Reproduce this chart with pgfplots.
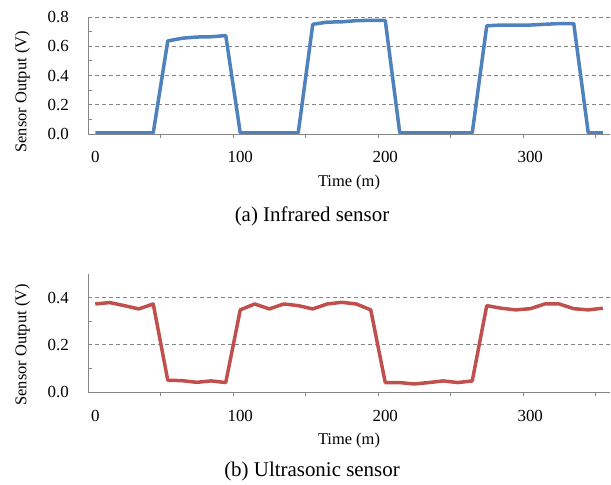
\documentclass[border=0pt]{standalone}
\usepackage{fontspec}
\setmainfont{Liberation Serif}
\usepackage{pgfplots}
\pgfplotsset{compat=1.18}
\definecolor{irblue}{HTML}{4F81BD}
\definecolor{usred}{HTML}{C0504D}
\definecolor{axgray}{HTML}{868686}
\newcommand\lblfont{\fontsize{16.5}{16.5}\selectfont}
\pgfplotsset{
  sensor/.style={
    anchor=south west, scale only axis, width=522bp, height=117bp,
    xmin=-5, xmax=355, ymin=0,
    axis x line*=bottom, axis y line*=left,
    axis line style={-, draw=axgray, line width=0.9bp},
    xtick={0,100,200,300},
    major x tick style={draw=none},
    minor xtick={45,95,...,345},
    minor x tick style={draw=axgray, line width=0.9bp, yshift=-4bp},
    minor tick length=4bp, major tick length=4bp,
    y tick style={draw=axgray, line width=0.9bp},
    minor y tick num=1,
    ymajorgrids,
    major grid style={draw=axgray, line width=0.9bp, dash pattern=on 4bp off 3bp},
    tick label style={font=\fontsize{17}{17}\selectfont},
    /pgf/number format/assume math mode=true,
    yticklabel style={/pgf/number format/fixed, /pgf/number format/zerofill, /pgf/number format/precision=1},
    yticklabel style={anchor=east, inner sep=0pt, xshift=-19bp},
    xticklabel style={anchor=base, inner sep=0pt, yshift=-29bp},
    xlabel={Time (m)},
    every axis x label/.style={at={(axis description cs:0.5,0)}, anchor=center, yshift=-49bp, font=\lblfont},
    ylabel={Sensor Output (V)},
  },
}
\begin{document}
\begin{tikzpicture}
\useasboundingbox (0,0) rectangle (611bp,485bp);
\begin{axis}[sensor, at={(88bp,351bp)}, ymax=0.8,
    ytick={0,0.2,...,0.8},
    every axis y label/.style={at={(axis description cs:-0.1255,0.36)}, rotate=90, anchor=center, font=\lblfont}]
\addplot[irblue, line width=3.5bp, line join=round] coordinates {
(0,0.008) (10,0.008) (20,0.008) (30,0.008) (40,0.008)
(50,0.636) (60,0.655) (70,0.663) (80,0.665) (90,0.673)
(100,0.008) (110,0.008) (120,0.008) (130,0.008) (140,0.008)
(150,0.750) (160,0.765) (170,0.767) (180,0.775) (190,0.777) (200,0.777)
(210,0.008) (220,0.008) (230,0.008) (240,0.008) (250,0.008) (260,0.008)
(270,0.740) (280,0.745) (290,0.745) (300,0.745) (310,0.750) (320,0.755) (330,0.755)
(340,0.008) (350,0.008)
};
\end{axis}
\node[anchor=base, font=\fontsize{21}{21}\selectfont] at (312bp,263bp) {(a) Infrared sensor};
\begin{axis}[sensor, at={(88bp,93bp)}, height=118bp, ymax=0.5,
    ytick={0,0.2,0.4},
    every axis y label/.style={at={(axis description cs:-0.1255,0.40)}, rotate=90, anchor=center, font=\lblfont}]
\addplot[usred, line width=3.5bp, line join=round] coordinates {
(0,0.373) (10,0.379) (20,0.366) (30,0.352) (40,0.373)
(50,0.050) (60,0.048) (70,0.041) (80,0.047) (90,0.040)
(100,0.348) (110,0.373) (120,0.352) (130,0.373) (140,0.366)
(150,0.352) (160,0.373) (170,0.380) (180,0.373) (190,0.348)
(200,0.040) (210,0.040) (220,0.034) (230,0.040) (240,0.047) (250,0.040) (260,0.047)
(270,0.366) (280,0.355) (290,0.348) (300,0.353) (310,0.373) (320,0.373)
(330,0.353) (340,0.348) (350,0.355)
};
\end{axis}
\node[anchor=base, font=\fontsize{21}{21}\selectfont] at (312bp,9bp) {(b) Ultrasonic sensor};
\end{tikzpicture}
\end{document}
